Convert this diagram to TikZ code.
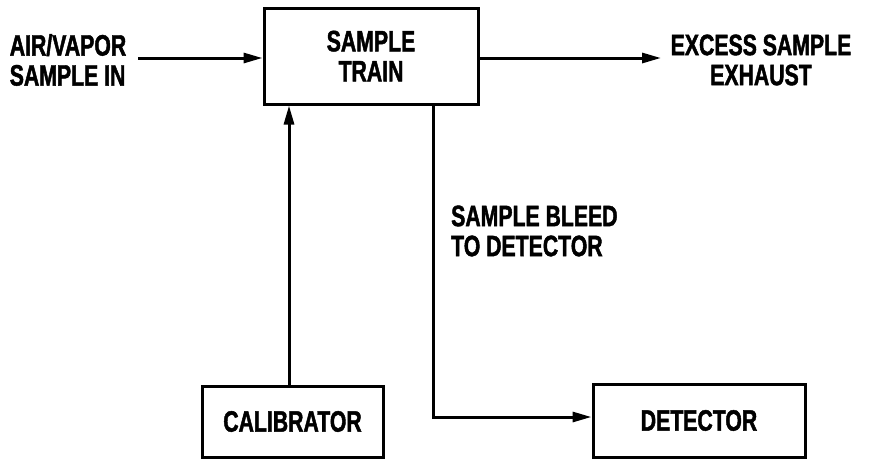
\documentclass[tikz,border=0pt]{standalone}
\usepackage{fontspec}
\newfontfamily\lblfont[FakeStretch=0.72,FakeBold=1.5]{Liberation Sans}
\usetikzlibrary{arrows.meta}
\begin{document}
\begin{tikzpicture}[x=1pt,y=-1pt,
  box/.style={draw,line width=3pt,inner sep=0pt,font=\lblfont\bfseries\fontsize{29.5}{30}\selectfont,align=center},
  lbl/.style={inner sep=0pt,font=\lblfont\bfseries\fontsize{29.5}{30}\selectfont,align=center},
  conn/.style={line width=3pt},
  arr/.style={conn,-{Triangle[length=19pt,width=10pt]}}]
\useasboundingbox (0,0) rectangle (871,459);
\node[box,minimum width=214pt,minimum height=96pt] (train) at (371,56) {SAMPLE\\TRAIN};
\node[box,minimum width=181pt,minimum height=71pt] (cal) at (292.5,421.5) {CALIBRATOR};
\node[box,minimum width=212pt,minimum height=73pt] (det) at (699,420.5) {DETECTOR};
\node[lbl,align=left] (in) at (68,60) {AIR/VAPOR\\SAMPLE IN};
\node[lbl] (ex) at (761,60) {EXCESS SAMPLE\\EXHAUST};
\node[lbl,align=left,anchor=west] (bleed) at (451,231) {SAMPLE BLEED\\TO DETECTOR};
\coordinate (inS) at (138,58);
\coordinate (exE) at (661,58);
\coordinate (corner) at (433,417);
\draw[arr] (inS) -- (train.west |- inS);
\draw[arr] (train.east |- exE) -- (exE);
\draw[arr] (cal.north -| 289,0) -- (train.south -| 289,0);
\draw[arr] (train.south -| corner) -- (corner) -- (det.west |- corner);
\end{tikzpicture}
\end{document}
